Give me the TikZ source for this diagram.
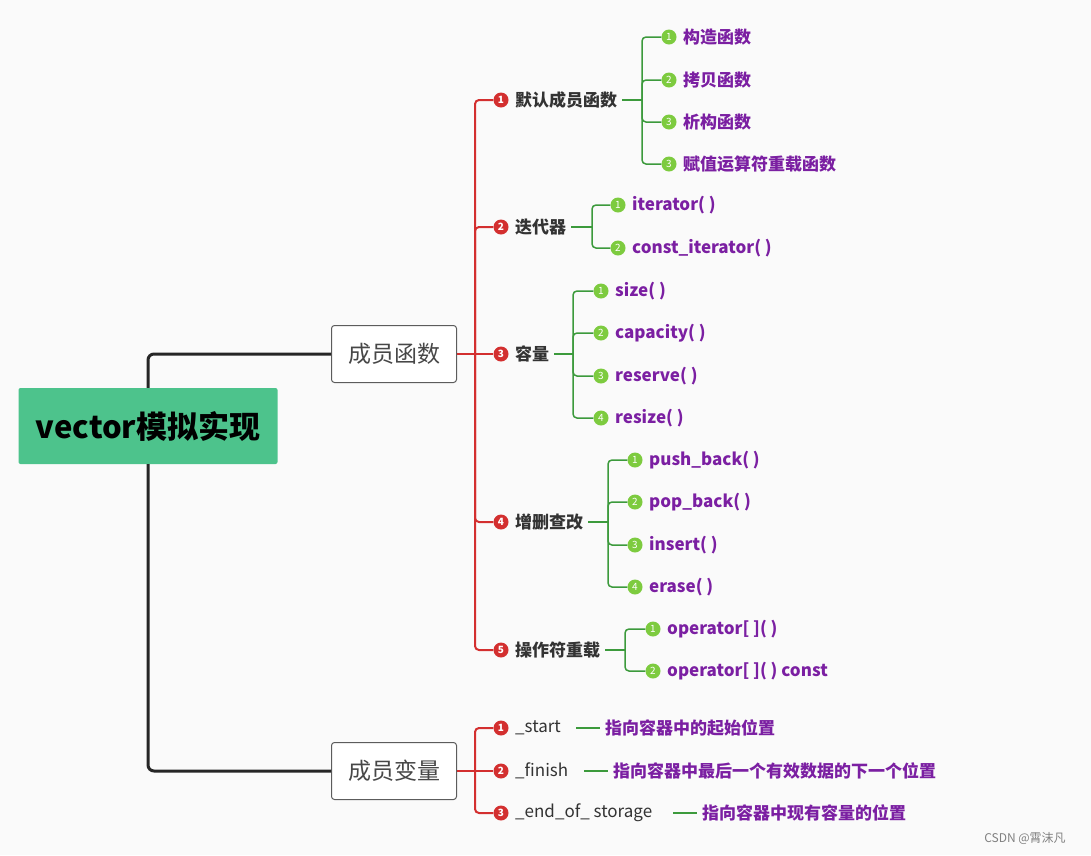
\documentclass[tikz,border=0pt]{standalone}
\usepackage{fontspec}
\setmainfont{Noto Sans CJK SC}
\definecolor{bgc}{HTML}{FAFAFA}
\definecolor{rootc}{HTML}{4DC38C}
\definecolor{redc}{HTML}{D32F2F}
\definecolor{grnc}{HTML}{3C9A3C}
\definecolor{dotg}{HTML}{7DCB3F}
\definecolor{purc}{HTML}{7B1FA2}
\definecolor{txtc}{HTML}{333333}
\begin{document}
\begin{tikzpicture}[
    x=1pt, y=-1pt,
    root/.style={rectangle, rounded corners=2pt, fill=rootc, minimum width=259pt, minimum height=76pt, font=\fontsize{31}{34}\selectfont\bfseries},
    topic/.style={rectangle, rounded corners=3pt, draw=txtc!80, line width=1pt, fill=white, minimum width=125pt, minimum height=57pt, text=txtc!90, font=\fontsize{23}{26}\selectfont},
    rdot/.style={circle, fill=redc, text=white, inner sep=0pt, minimum size=15pt, font=\fontsize{10}{10}\selectfont\bfseries},
    gdot/.style={circle, fill=dotg, text=white, inner sep=0pt, minimum size=15pt, font=\fontsize{10}{10}\selectfont},
    sub/.style={anchor=west, inner sep=1pt, text=txtc, font=\fontsize{17}{19}\selectfont\bfseries},
    var/.style={anchor=west, inner sep=1pt, text=txtc, font=\fontsize{17}{19}\selectfont},
    leaf/.style={anchor=west, inner sep=1pt, text=purc, font=\fontsize{17}{19}\selectfont\bfseries},
    mainline/.style={draw=black!85, line width=3pt, rounded corners=6pt},
    redline/.style={draw=redc, line width=2pt, rounded corners=4pt},
    grnline/.style={draw=grnc, line width=1.5pt, rounded corners=4pt}
]
\fill[bgc] (0,0) rectangle (1091,855);

% Root and the two topics
\node[root] (vec) at (148,426) {vector模拟实现};
\node[topic] (funcs) at (394,354) {成员函数};
\node[topic] (vars) at (394,771) {成员变量};
\draw[mainline] (vec.north) |- (funcs.west);
\draw[mainline] (vec.south) |- (vars.west);

% Member functions
\coordinate (fj) at (475,354);
\node[rdot] (d1) at (501,100) {1}; \node[sub] (s1) at (514,100) {默认成员函数};
\node[rdot] (d2) at (501,227) {2}; \node[sub] (s2) at (514,227) {迭代器};
\node[rdot] (d3) at (501,354) {3}; \node[sub] (s3) at (514,354) {容量};
\node[rdot] (d4) at (501,522) {4}; \node[sub] (s4) at (514,522) {增删查改};
\node[rdot] (d5) at (501,650) {5}; \node[sub] (s5) at (514,650) {操作符重载};
\draw[redline] (funcs.east) -- (fj);
\draw[redline] (fj) |- (d1.west);
\draw[redline] (fj) |- (d2.west);
\draw[redline] (fj) -- (d3.west);
\draw[redline] (fj) |- (d4.west);
\draw[redline] (fj) |- (d5.west);

% Default member functions
\coordinate (j1) at (642,100);
\node[gdot] (a1) at (669,37) {1}; \node[leaf] at (682,37) {构造函数};
\node[gdot] (a2) at (669,80) {2}; \node[leaf] at (682,80) {拷贝函数};
\node[gdot] (a3) at (669,122) {3}; \node[leaf] at (682,122) {析构函数};
\node[gdot] (a4) at (669,164) {3}; \node[leaf] at (682,164) {赋值运算符重载函数};
\draw[grnline] (s1.east) ++(4,0) -- (j1);
\foreach \n in {a1,a2,a3,a4} \draw[grnline] (j1) |- (\n.west);

% Iterators
\coordinate (j2) at (592,227);
\node[gdot] (b1) at (618,205) {1}; \node[leaf] at (631,205) {iterator( )};
\node[gdot] (b2) at (618,248) {2}; \node[leaf] at (631,248) {const\_iterator( )};
\draw[grnline] (s2.east) ++(4,0) -- (j2);
\foreach \n in {b1,b2} \draw[grnline] (j2) |- (\n.west);

% Capacity
\coordinate (j3) at (573,354);
\node[gdot] (c1) at (601,291) {1}; \node[leaf] at (614,291) {size( )};
\node[gdot] (c2) at (601,333) {2}; \node[leaf] at (614,333) {capacity( )};
\node[gdot] (c3) at (601,376) {3}; \node[leaf] at (614,376) {reserve( )};
\node[gdot] (c4) at (601,418) {4}; \node[leaf] at (614,418) {resize( )};
\draw[grnline] (s3.east) ++(4,0) -- (j3);
\foreach \n in {c1,c2,c3,c4} \draw[grnline] (j3) |- (\n.west);

% Modifiers
\coordinate (j4) at (608,522);
\node[gdot] (e1) at (635,460) {1}; \node[leaf] at (648,460) {push\_back( )};
\node[gdot] (e2) at (635,502) {2}; \node[leaf] at (648,502) {pop\_back( )};
\node[gdot] (e3) at (635,545) {3}; \node[leaf] at (648,545) {insert( )};
\node[gdot] (e4) at (635,587) {4}; \node[leaf] at (648,587) {erase( )};
\draw[grnline] (s4.east) ++(4,0) -- (j4);
\foreach \n in {e1,e2,e3,e4} \draw[grnline] (j4) |- (\n.west);

% Operator overloads
\coordinate (j5) at (625,650);
\node[gdot] (o1) at (653,629) {1}; \node[leaf] at (666,629) {operator[ ]( )};
\node[gdot] (o2) at (653,671) {2}; \node[leaf] at (666,671) {operator[ ]( ) const};
\draw[grnline] (s5.east) ++(4,0) -- (j5);
\foreach \n in {o1,o2} \draw[grnline] (j5) |- (\n.west);

% Member variables
\coordinate (vj) at (475,771);
\node[rdot] (v1) at (501,728) {1}; \node[var] (w1) at (514,728) {\_start};
\node[rdot] (v2) at (501,771) {2}; \node[var] (w2) at (514,771) {\_finish};
\node[rdot] (v3) at (501,813) {3}; \node[var] (w3) at (514,813) {\_end\_of\_ storage};
\draw[redline] (vars.east) -- (vj);
\foreach \n in {v1,v3} \draw[redline] (vj) |- (\n.west);
\draw[redline] (vj) -- (v2.west);
\node[leaf] (t1) at (604,728) {指向容器中的起始位置};
\node[leaf] (t2) at (612,771) {指向容器中最后一个有效数据的下一个位置};
\node[leaf] (t3) at (701,813) {指向容器中现有容量的位置};
\draw[grnc, line width=1.2pt] ([xshift=-28pt]t1.west) -- ([xshift=-4pt]t1.west);
\draw[grnc, line width=1.2pt] ([xshift=-28pt]t2.west) -- ([xshift=-4pt]t2.west);
\draw[grnc, line width=1.2pt] ([xshift=-28pt]t3.west) -- ([xshift=-4pt]t3.west);

\node[text=gray, font=\fontsize{12}{13}\selectfont] (mark) at (1025,838) {CSDN @霄沫凡};
\end{tikzpicture}
\end{document}
